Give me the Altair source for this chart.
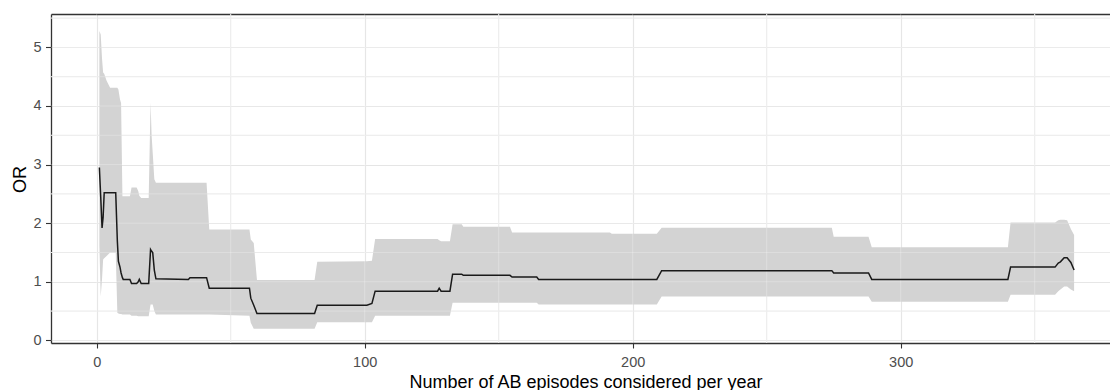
import altair as alt
import pandas as pd

# Number of AB episodes considered per year (breakpoints of the rolling estimate)
episodes = [
    1.0, 1.5, 2.0, 2.4, 2.8, 3.7, 5.0, 7.1, 7.7, 8.1, 8.7, 9.1, 9.6, 9.9,
    12.4, 13.0, 14.9, 15.5, 15.9, 16.6, 19.4, 20.1, 20.5, 20.9, 21.5, 22.1,
    34.2, 34.8, 41.0, 42.0, 57.0, 57.5, 58.6, 59.8, 81.3, 82.3, 100.8, 102.7,
    103.9, 127.2, 127.8, 128.5, 131.8, 132.8, 136.2, 136.8, 154.2, 155.0,
    164.2, 164.9, 191.5, 192.2, 209.0, 210.8, 274.3, 275.0, 288.0, 289.2,
    340.0, 341.0, 357.6, 358.8, 359.6, 361.0, 362.1, 363.5, 364.7,
]

# Odds ratio point estimate
or_est = [
    2.95, 2.45, 1.92, 2.10, 2.52, 2.52, 2.52, 2.52, 1.70, 1.35, 1.25, 1.15, 1.07, 1.04,
    1.04, 0.97, 0.97, 1.00, 1.04, 0.97, 0.97, 1.55, 1.52, 1.50, 1.20, 1.05,
    1.04, 1.07, 1.07, 0.89, 0.89, 0.72, 0.60, 0.46, 0.46, 0.60, 0.60, 0.63,
    0.84, 0.84, 0.89, 0.84, 0.84, 1.13, 1.13, 1.11, 1.11, 1.08,
    1.08, 1.04, 1.04, 1.04, 1.04, 1.19, 1.19, 1.15, 1.15, 1.04,
    1.04, 1.25, 1.25, 1.32, 1.34, 1.41, 1.41, 1.33, 1.20,
]

# Lower confidence limit
or_low = [
    1.62, 0.75, 1.05, 1.38, 1.40, 1.44, 1.50, 1.50, 0.47, 0.46, 0.45, 0.45, 0.44, 0.44,
    0.44, 0.42, 0.42, 0.41, 0.41, 0.41, 0.41, 0.61, 0.61, 0.61, 0.50, 0.44,
    0.44, 0.44, 0.44, 0.44, 0.42, 0.30, 0.20, 0.20, 0.20, 0.31, 0.31, 0.31,
    0.42, 0.42, 0.42, 0.42, 0.42, 0.64, 0.64, 0.64, 0.64, 0.64,
    0.64, 0.61, 0.61, 0.61, 0.61, 0.75, 0.75, 0.75, 0.75, 0.66,
    0.66, 0.78, 0.78, 0.84, 0.87, 0.92, 0.92, 0.87, 0.84,
]

# Upper confidence limit
or_high = [
    5.28, 5.22, 4.80, 4.57, 4.55, 4.43, 4.31, 4.31, 4.31, 4.28, 4.11, 4.05, 2.46, 2.46,
    2.46, 2.61, 2.61, 2.55, 2.47, 2.43, 2.43, 4.06, 3.49, 3.20, 2.75, 2.69,
    2.69, 2.69, 2.69, 1.89, 1.89, 1.72, 1.66, 1.03, 1.03, 1.34, 1.35, 1.36,
    1.73, 1.73, 1.71, 1.69, 1.69, 1.98, 1.98, 1.94, 1.94, 1.84,
    1.84, 1.84, 1.84, 1.82, 1.82, 1.92, 1.92, 1.77, 1.77, 1.59,
    1.59, 2.01, 2.01, 2.05, 2.06, 2.06, 2.05, 1.90, 1.80,
]

x_major = [0, 100, 200, 300]
x_minor = [50, 150, 250, 350]
y_major = [0, 1, 2, 3, 4, 5]
y_minor = [0.5, 1.5, 2.5, 3.5, 4.5, 5.5]

df = pd.DataFrame({"episodes": episodes, "OR": or_est, "lower": or_low, "upper": or_high})

FONT = "Liberation Sans"
GRID = "#e5e5e5"
BORDER = "#333333"

x_scale = alt.Scale(domain=[-17.05, 378.1], nice=False, zero=False)
y_scale = alt.Scale(domain=[-0.045, 5.57], nice=False, zero=False)

# minor grid, beneath everything
minor_v = alt.Chart(pd.DataFrame({"v": x_minor})).mark_rule(
    color=GRID, strokeWidth=1.0
).encode(x=alt.X("v:Q", scale=x_scale, axis=None))
minor_h = alt.Chart(pd.DataFrame({"v": y_minor})).mark_rule(
    color=GRID, strokeWidth=1.0
).encode(y=alt.Y("v:Q", scale=y_scale, axis=None))

# confidence band
band = alt.Chart(df).mark_area(color="#d3d3d3").encode(
    x=alt.X("episodes:Q", scale=x_scale, axis=None),
    y=alt.Y("lower:Q", scale=y_scale, axis=None),
    y2="upper:Q",
)

# faint grid showing through the band; also carries the top panel border
over_v = alt.Chart(pd.DataFrame({"v": x_major + x_minor})).mark_rule(
    color="white", opacity=0.25, strokeWidth=1.0
).encode(
    x=alt.X(
        "v:Q",
        scale=x_scale,
        axis=alt.Axis(
            orient="top", labels=False, ticks=False, grid=False, title=None,
            domainColor=BORDER, domainWidth=1.3,
        ),
    )
)
over_h = alt.Chart(pd.DataFrame({"v": y_major + y_minor})).mark_rule(
    color="white", opacity=0.25, strokeWidth=1.0
).encode(y=alt.Y("v:Q", scale=y_scale, axis=None))

# point estimate
line = alt.Chart(df).mark_line(color="#1a1a1a", strokeWidth=1.5).encode(
    x=alt.X(
        "episodes:Q",
        scale=x_scale,
        axis=alt.Axis(
            orient="bottom", values=x_major, format="d", grid=True,
            gridColor=GRID, gridWidth=1.2,
            domainColor=BORDER, domainWidth=1.3,
            tickColor=BORDER, tickSize=5, tickWidth=1.1,
            labelColor="#4d4d4d", labelFont=FONT, labelFontSize=14.5,
            labelPadding=7, labelFlush=False,
            title="Number of AB episodes considered per year",
            titleFont=FONT, titleFontSize=18, titleFontWeight="normal",
            titleColor="#000000", titleX=534.5, titleY=44,
            titleAlign="center", titleBaseline="alphabetic",
        ),
    ),
    y=alt.Y(
        "OR:Q",
        scale=y_scale,
        axis=alt.Axis(
            orient="left", values=y_major, format="d", grid=True,
            gridColor=GRID, gridWidth=1.2,
            domainColor=BORDER, domainWidth=1.3,
            tickColor=BORDER, tickSize=5.5, tickWidth=1.1,
            labelColor="#4d4d4d", labelFont=FONT, labelFontSize=14.5,
            labelPadding=4.5, labelFlush=False,
            title="OR",
            titleFont=FONT, titleFontSize=18, titleFontWeight="normal",
            titleColor="#000000", titleX=-25.5, titleY=165, titleAngle=270,
            titleAlign="center", titleBaseline="alphabetic",
        ),
    ),
)

chart = alt.layer(minor_v, minor_h, band, over_v, over_h, line).resolve_axis(
    x="independent", y="independent"
).properties(
    width=1059,
    height=329,
    autosize=alt.AutoSizeParams(type="none"),
    padding={"left": 51, "top": 14, "right": 0, "bottom": 47},
    background="white",
).configure_view(strokeWidth=0)

chart.save("out.html", embed_options={"renderer": "svg", "actions": False})
